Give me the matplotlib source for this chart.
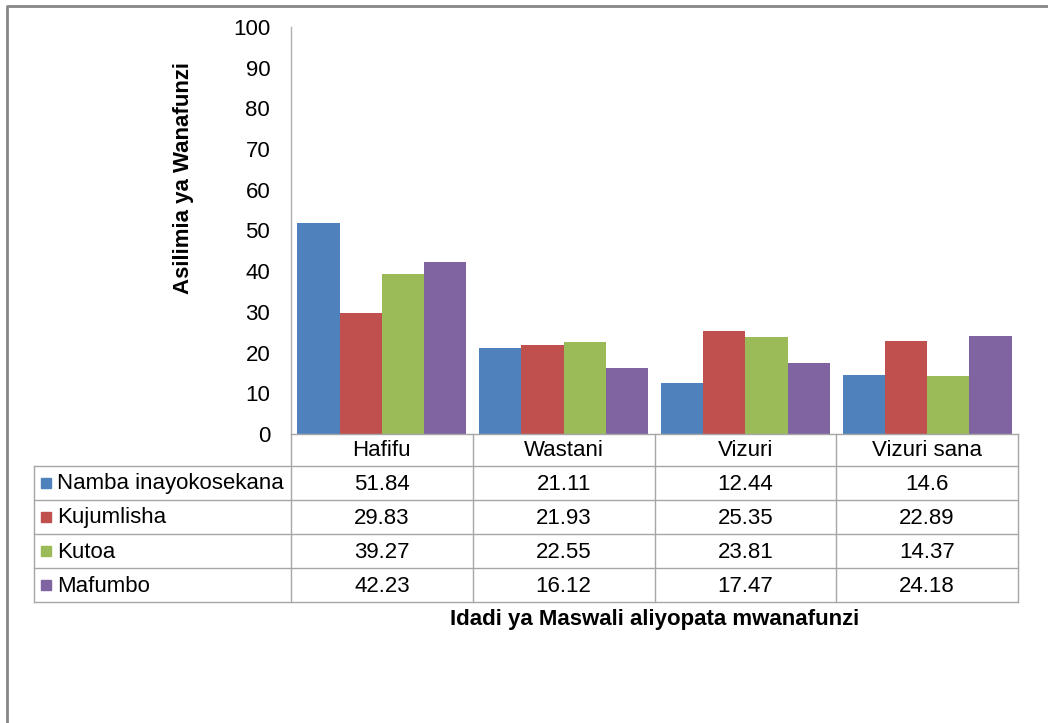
import matplotlib.pyplot as plt
import numpy as np

plt.rcParams['font.family'] = ['Liberation Sans', 'DejaVu Sans']

categories = ['Hafifu', 'Wastani', 'Vizuri', 'Vizuri sana']
series_names = ['Namba inayokosekana', 'Kujumlisha', 'Kutoa', 'Mafumbo']
namba = [51.84, 21.11, 12.44, 14.6]
kujumlisha = [29.83, 21.93, 25.35, 22.89]
kutoa = [39.27, 22.55, 23.81, 14.37]
mafumbo = [42.23, 16.12, 17.47, 24.18]
values = [namba, kujumlisha, kutoa, mafumbo]
colors = ['#4F81BD', '#C0504D', '#9BBB59', '#8064A2']

W, H = 1048, 723
fs = 16
fig = plt.figure(figsize=(W / 100, H / 100), dpi=100)


def fx(px):
    return px / W


def fy(py):
    return 1 - py / H


# plot area in pixels
left, right, top, bottom = 291, 1018, 27, 434
ax = fig.add_axes([fx(left), fy(bottom), fx(right - left), (bottom - top) / H])

x = np.arange(len(categories))
bw = 0.2328
for j, (name, vals) in enumerate(zip(series_names, values)):
    ax.bar(x + (j - 1.5) * bw, vals, width=bw, color=colors[j], label=name)

ax.set_xlim(-0.5, len(categories) - 0.5)
ax.set_ylim(0, 100)
ax.set_yticks(range(0, 101, 10))
ax.tick_params(axis='y', length=0, pad=15, labelsize=fs)
ax.set_xticks([])
for s in ['top', 'right', 'bottom']:
    ax.spines[s].set_visible(False)
ax.spines['left'].set_color('#b0b0b0')
ax.spines['left'].set_linewidth(1.0)

ax.text(fx(183), fy(178), 'Asilimia ya Wanafunzi', transform=fig.transFigure,
        rotation=90, ha='center', va='center', fontsize=fs, fontweight='bold')

# data table below the axis
lc = '#a6a6a6'
col_edges = [left + i * (right - left) / len(categories) for i in range(len(categories) + 1)]
row_edges = [434, 466, 500, 534, 568, 602]
tab_left = 34


def hline(y, x0, x1):
    fig.add_artist(plt.Line2D([fx(x0), fx(x1)], [fy(y), fy(y)], color=lc, lw=1.0,
                              transform=fig.transFigure))


def vline(xp, y0, y1):
    fig.add_artist(plt.Line2D([fx(xp), fx(xp)], [fy(y0), fy(y1)], color=lc, lw=1.0,
                              transform=fig.transFigure))


hline(row_edges[0], left, right)
for y in row_edges[1:]:
    hline(y, tab_left, right)
for xp in col_edges:
    vline(xp, row_edges[0], row_edges[-1])
vline(tab_left, row_edges[1], row_edges[-1])

for i, cat in enumerate(categories):
    cx = (col_edges[i] + col_edges[i + 1]) / 2
    fig.text(fx(cx), fy((row_edges[0] + row_edges[1]) / 2 + 1), cat,
             ha='center', va='center', fontsize=fs)

for j, name in enumerate(series_names):
    cy = (row_edges[j + 1] + row_edges[j + 2]) / 2
    fig.add_artist(plt.Rectangle((fx(41), fy(cy + 5)), fx(10), 10 / H,
                                 color=colors[j], transform=fig.transFigure))
    fig.text(fx(57), fy(cy + 1), name, ha='left', va='center', fontsize=fs)
    for i, v in enumerate(values[j]):
        cx = (col_edges[i] + col_edges[i + 1]) / 2
        fig.text(fx(cx), fy(cy + 1), f'{v:g}', ha='center', va='center', fontsize=fs)

fig.text(fx(655), fy(620), 'Idadi ya Maswali aliyopata mwanafunzi',
         ha='center', va='center', fontsize=fs, fontweight='bold')

# outer chart frame
fig.add_artist(plt.Line2D([fx(7), fx(7), fx(W + 5)], [fy(H + 5), fy(6), fy(6)],
                          color='#868686', lw=2.0, transform=fig.transFigure))

fig.savefig('out.png', dpi=100)
